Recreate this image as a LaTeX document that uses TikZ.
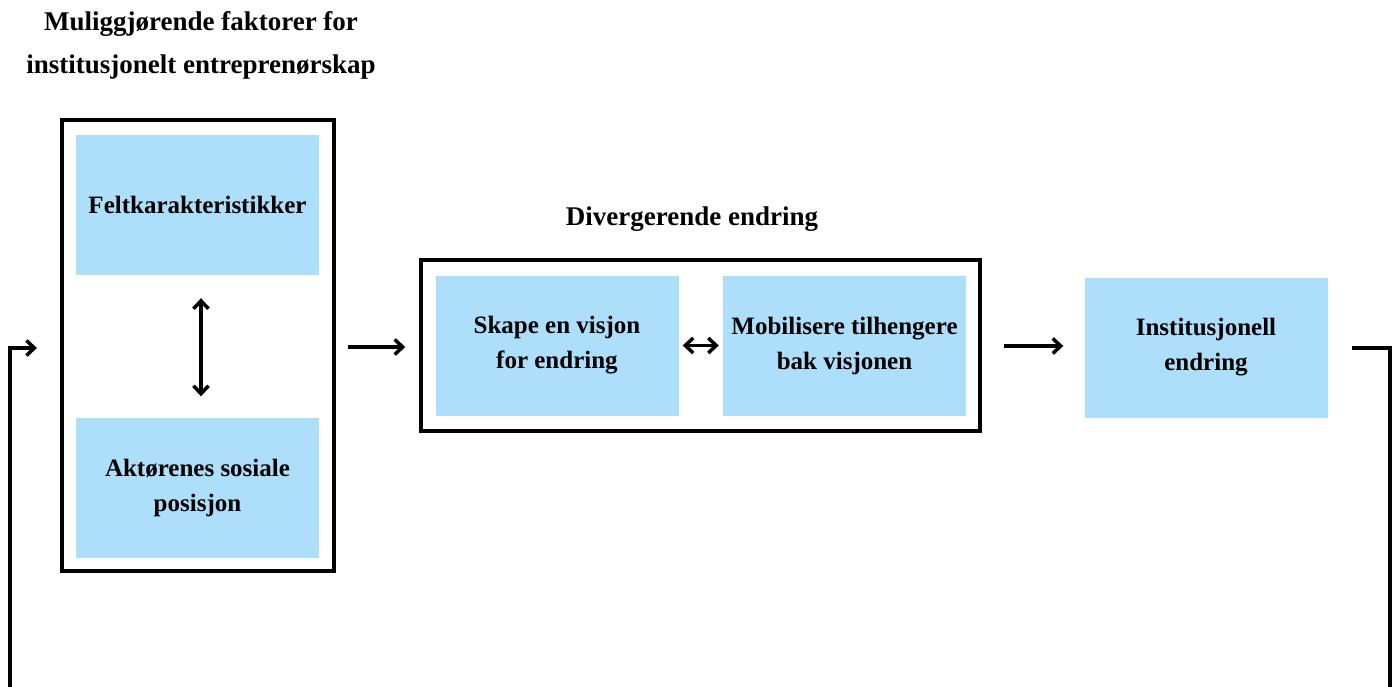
\documentclass[tikz,border=0pt]{standalone}
\usepackage{fontspec}
\setmainfont{Liberation Serif}
\usetikzlibrary{arrows.meta}
\definecolor{boxblue}{RGB}{173,222,250}
\begin{document}
\begin{tikzpicture}[x=1pt,y=-1pt,
  >={Straight Barb[length=8pt,width=15pt,line width=3.5pt]},
  frame/.style={draw=black,line width=3.5pt,fill=white},
  bluebox/.style={fill=boxblue,draw=none,minimum width=243pt,minimum height=140pt,
    align=center,font=\bfseries\fontsize{25}{35}\selectfont,inner sep=0pt},
  heading/.style={align=center,font=\bfseries\fontsize{27}{43}\selectfont,inner sep=0pt},
  conn/.style={line width=3.5pt,->},
  dconn/.style={line width=3.5pt,<->},
  plain/.style={line width=3.5pt}]
\useasboundingbox (0,0) rectangle (1395,687);
% enabling factors
\node[heading] (title) at (201,45) {Muliggjørende faktorer for\\institusjonelt entreprenørskap};
\node[frame,minimum width=272pt,minimum height=451pt,inner sep=0pt] (left) at (198,345.5) {};
\node[bluebox] (felt) at (197.5,205) {Feltkarakteristikker};
\node[bluebox] (akt) at (197.5,487.5) {Aktørenes sosiale\\posisjon};
\draw[dconn] ([yshift=-23pt]felt.south -| 201,0) coordinate (fa) -- ([yshift=21pt]akt.north -| 201,0) coordinate (ab);
% divergent change
\node[heading] (div) at (692,219) {Divergerende endring};
\node[frame,minimum width=559pt,minimum height=171pt,inner sep=0pt] (mid) at (700.5,345.5) {};
\node[bluebox] (skape) at (557,345.5) {Skape en visjon\\for endring};
\node[bluebox] (mob) at (844.5,345.5) {Mobilisere tilhengere\\bak visjonen};
\draw[dconn] ([xshift=4pt]skape.east) -- ([xshift=-4pt]mob.west);
% outcome
\node[bluebox] (inst) at (1206,347.5) {Institusjonell\\endring};
% connectors
\coordinate (a1) at (348,347);
\coordinate (a2) at (1004,346);
\draw[conn] (a1) -- ([xshift=-14pt]mid.west |- a1);
\draw[conn] (a2) -- ([xshift=-21pt]inst.west |- a2);
% feedback loop
\coordinate (rs) at (1352,348);
\coordinate (rc) at (1390,348);
\coordinate (rb) at (1390,690);
\coordinate (lb) at (10,690);
\coordinate (lc) at (10,348);
\coordinate (le) at (37,348);
\draw[plain] (rs) -- (rc) -- (rb);
\draw[conn] (lb) -- (lc) -- (le);
\end{tikzpicture}
\end{document}
